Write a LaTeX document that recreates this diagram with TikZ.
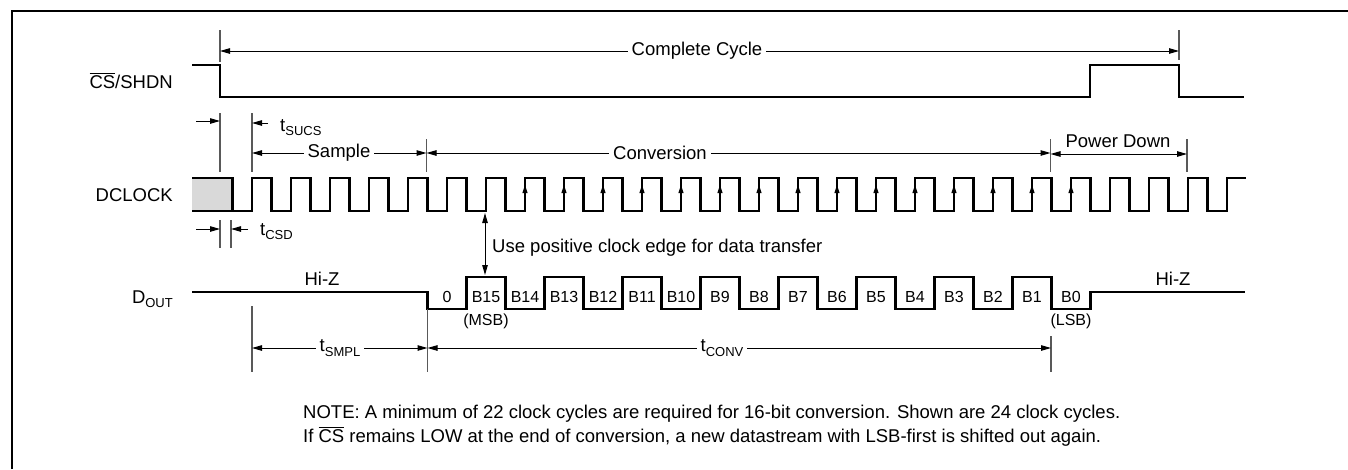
\documentclass[tikz,border=0pt]{standalone}
\usepackage{fontspec}
\setmainfont{Liberation Sans}
\usetikzlibrary{arrows.meta}
\newcommand{\mysub}[1]{\raisebox{-4.5pt}{\fontsize{13}{14}\selectfont #1}}
\begin{document}
\begin{tikzpicture}[x=1pt,y=-1pt,
  sig/.style={line width=2.6pt},
  frame/.style={line width=2.6pt},
  dimarr/.style={line width=1pt,{Triangle[length=10pt,width=5.5pt]}-{Triangle[length=10pt,width=5.5pt]}},
  onearr/.style={line width=1pt,-{Triangle[length=10pt,width=5.5pt]}},
  edgearr/.style={line width=1pt,-{Triangle[length=8pt,width=5pt]}},
  markline/.style={line width=1.2pt,draw=black!65},
  lbl/.style={font=\fontsize{18.5}{21}\selectfont, inner sep=0pt},
  gaplbl/.style={font=\fontsize{18.5}{21}\selectfont, fill=white, inner sep=4pt},
  bit/.style={font=\fontsize{16}{18}\selectfont, inner sep=0pt}
]
\useasboundingbox (0,0) rectangle (1348,469);
% frame
\draw[frame] (12,469) -- (12,11) -- (1348,11);

% signal names
\node[lbl,anchor=base east] (lcs) at (173,88) {$\overline{\mbox{CS}}$/SHDN};
\node[lbl,anchor=base east] (lclk) at (173,201.5) {DCLOCK};
\node[lbl,anchor=base east] (ldout) at (173,303) {D\mysub{OUT}};

% CS waveform
\draw[sig] (192,65) -- (220,65) -- (220,97) -- (1090,97) -- (1090,65) -- (1179,65) -- (1179,97) -- (1244,97);

% DCLOCK waveform
\fill[black!15] (192,178) rectangle (232.5,211);
\draw[sig] (192,211) -- (232.5,211);
\draw[sig] (192,178) -- (232.5,178) -- (232.5,211) -- (252,211)
  foreach \k in {0,...,24} { -- ++(0,-33) -- ++(19.5,0) -- ++(0,33) -- ++(19.5,0) }
  -- ++(0,-33) -- (1246,178);
\foreach \k in {7,...,21} \draw[edgearr] ({252+39*\k},206) -- ({252+39*\k},185);

% DOUT waveform
\draw[sig] (192,292) -- (427.5,292) -- (427.5,309)
  foreach \j in {1,3,...,15} { -- ({427.5+39*\j},309) -- ++(0,-32) -- ++(39,0) -- ++(0,32) }
  -- (1090.5,309) -- (1090.5,292) -- (1245,292);
\foreach \lab [count=\j from 0] in {0,B15,B14,B13,B12,B11,B10,B9,B8,B7,B6,B5,B4,B3,B2,B1,B0}
  \node[bit,anchor=base] (bit\j) at ({447+39*\j},302) {\lab};
\node[bit,anchor=base] (msb) at (486,325) {(MSB)};
\node[bit,anchor=base] (lsb) at (1071,325) {(LSB)};
\node[lbl,anchor=base] (hiz1) at (322,285) {Hi-Z};
\node[lbl,anchor=base] (hiz2) at (1173,285) {Hi-Z};

% marker lines
\draw[markline] (220,30) -- (220,62);
\draw[markline] (1179,30) -- (1179,60);
\draw[markline] (220,113) -- (220,172);
\draw[markline] (252,113) -- (252,172);
\draw[markline] (426.5,139) -- (426.5,172);
\draw[markline] (1050.5,139) -- (1050.5,172);
\draw[markline] (1187,139) -- (1187,172);
\draw[markline] (220,220) -- (220,248);
\draw[markline] (231,220) -- (231,248);
\draw[markline] (252,306) -- (252,372);
\draw[markline] (427.5,309) -- (427.5,372);
\draw[markline] (1051,336) -- (1051,372);

% Complete cycle
\coordinate (ccL) at (220,51); \coordinate (ccR) at (1179,51);
\draw[dimarr] (ccL) -- (ccR);
\node[gaplbl] (cc) at (697,51) {Complete Cycle};

% Sample / Conversion / Power Down
\coordinate (smL) at (252,153); \coordinate (smR) at (426.5,153);
\draw[dimarr] (smL) -- (smR);
\node[gaplbl] (smp) at (339,153) {Sample};
\coordinate (cvL) at (426.5,153); \coordinate (cvR) at (1050.5,153);
\draw[dimarr] (cvL) -- (cvR);
\node[gaplbl] (conv) at (660,153) {Conversion};
\coordinate (pdL) at (1050.5,154); \coordinate (pdR) at (1187,154);
\draw[dimarr] (pdL) -- (pdR);
\node[lbl,anchor=base] (pd) at (1118,147) {Power Down};

% tSUCS
\coordinate (suA) at (196,121); \coordinate (suB) at (220,121);
\draw[onearr] (suA) -- (suB);
\coordinate (suC) at (268,123); \coordinate (suD) at (252,123);
\draw[onearr] (suC) -- (suD);
\node[lbl,anchor=base west] (tsucs) at (280,131) {t\mysub{SUCS}};

% tCSD
\coordinate (cdA) at (196,229); \coordinate (cdB) at (220,229);
\draw[onearr] (cdA) -- (cdB);
\coordinate (cdC) at (248,229); \coordinate (cdD) at (231,229);
\draw[onearr] (cdC) -- (cdD);
\node[lbl,anchor=base west] (tcsd) at (260,235) {t\mysub{CSD}};

% clock edge arrow
\coordinate (ueA) at (485,213); \coordinate (ueB) at (485,275);
\draw[dimarr] (ueA) -- (ueB);
\node[lbl,anchor=base west] (use) at (492,252) {Use positive clock edge for data transfer};

% tSMPL / tCONV
\coordinate (spL) at (252,348); \coordinate (spR) at (427.5,348);
\draw[dimarr] (spL) -- (spR);
\node[gaplbl] (tsmpl) at (340,348) {t\mysub{SMPL}};
\coordinate (cnL) at (427.5,348); \coordinate (cnR) at (1051,348);
\draw[dimarr] (cnL) -- (cnR);
\node[gaplbl] (tconv) at (722,348) {t\mysub{CONV}};

% note
\node[lbl,anchor=base west] (note1) at (303,418) {NOTE: A minimum of 22 clock cycles are required for 16-bit conversion. Shown are 24 clock cycles.};
\node[lbl,anchor=base west] (note2) at (303,442) {If $\overline{\mbox{CS}}$ remains LOW at the end of conversion, a new datastream with LSB-first is shifted out again.};
\end{tikzpicture}
\end{document}
